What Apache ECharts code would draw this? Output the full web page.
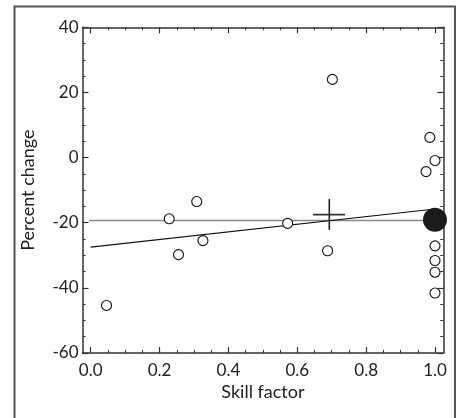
<!DOCTYPE html>
<html>
<head>
<meta charset="utf-8">
<script src="https://cdn.jsdelivr.net/npm/echarts@6/dist/echarts.min.js"></script>
<style>
html,body{margin:0;padding:0;background:#fff;}
#c{width:461px;height:418px;}
</style>
</head>
<body>
<div id="c"></div>
<script>
// ---- data ----
var skillFactor = [0.046, 0.228, 0.255, 0.308, 0.326, 0.572, 0.688, 0.702, 0.974, 0.985, 1.0, 1.0, 1.0, 1.0, 1.0];
var percentChange = [-45.4, -18.8, -29.8, -13.5, -25.5, -20.2, -28.6, 24.0, -4.3, 6.2, -0.9, -27.1, -31.6, -35.2, -41.6];
var meanPoint = [1.0, -19.1];
var meanLineY = -19.3;
var meanLineX = [-0.024, 1.0];
var regressionX = [0.0, 1.0];
var regressionY = [-27.5, -15.8];
var crossX = [0.646, 0.693, 0.739];
var crossY = [-22.2, -17.5, -12.7];
var xTicks = [0.0, 0.2, 0.4, 0.6, 0.8, 1.0];
var yTicks = [-60, -40, -20, 0, 20, 40];

var FONT = 'Lato';
var AX = '#333';
var scatterData = skillFactor.map(function (x, i) { return [x, percentChange[i]]; });

var chart = echarts.init(document.getElementById('c'), null, {renderer: 'canvas'});
var tickStyle = {show: true, inside: true, length: 6, lineStyle: {color: AX, width: 1.2}};
var minorStyle = {show: true, splitNumber: 4, length: 3, lineStyle: {color: AX, width: 1}};
var option = {
  animation: false,
  backgroundColor: '#fff',
  graphic: [{
    type: 'rect', shape: {x: 14.5, y: 6.5, width: 440.5, height: 430},
    style: {fill: 'none', stroke: '#555', lineWidth: 2}, z: -1
  }],
  grid: [
    {left: 82.5, right: 17.7, top: 27.3, bottom: 65},
    {left: 90.7, width: 344.3, top: 27.3, bottom: 65}
  ],
  xAxis: [
    {gridIndex: 0, type: 'value', min: -0.024, max: 1.024, position: 'bottom',
     axisLine: {show: true, onZero: false, lineStyle: {color: AX, width: 1.5}},
     axisTick: {show: false}, axisLabel: {show: false}, splitLine: {show: false},
     name: 'Skill factor', nameLocation: 'middle', nameGap: 30,
     nameTextStyle: {fontFamily: FONT, fontSize: 18, color: '#222'}},
    {gridIndex: 0, type: 'value', min: -0.024, max: 1.024, position: 'top',
     axisLine: {show: true, onZero: false, lineStyle: {color: AX, width: 1.5}},
     axisTick: {show: false}, axisLabel: {show: false}, splitLine: {show: false}},
    {gridIndex: 1, type: 'value', min: xTicks[0], max: xTicks[xTicks.length - 1], interval: 0.2, position: 'bottom',
     axisLine: {show: false, onZero: false}, axisTick: tickStyle, minorTick: minorStyle,
     splitLine: {show: false},
     axisLabel: {show: true, margin: 9, fontFamily: FONT, fontSize: 17, color: '#222',
       formatter: function (v) { return v.toFixed(1); }}},
    {gridIndex: 1, type: 'value', min: xTicks[0], max: xTicks[xTicks.length - 1], interval: 0.2, position: 'top',
     axisLine: {show: false, onZero: false}, axisTick: tickStyle, minorTick: minorStyle,
     splitLine: {show: false}, axisLabel: {show: false}}
  ],
  yAxis: [
    {gridIndex: 0, type: 'value', min: yTicks[0], max: yTicks[yTicks.length - 1], interval: 20, position: 'left',
     axisLine: {show: true, onZero: false, lineStyle: {color: AX, width: 1.5}},
     axisTick: tickStyle, minorTick: minorStyle, splitLine: {show: false},
     axisLabel: {show: true, margin: 4, fontFamily: FONT, fontSize: 17, color: '#222'},
     name: 'Percent change', nameLocation: 'middle', nameGap: 45,
     nameTextStyle: {fontFamily: FONT, fontSize: 18, color: '#222'}},
    {gridIndex: 0, type: 'value', min: yTicks[0], max: yTicks[yTicks.length - 1], interval: 20, position: 'right',
     axisLine: {show: true, onZero: false, lineStyle: {color: AX, width: 1.5}},
     axisTick: tickStyle, minorTick: minorStyle, splitLine: {show: false},
     axisLabel: {show: false}},
    {gridIndex: 1, type: 'value', min: yTicks[0], max: yTicks[yTicks.length - 1], show: false}
  ],
  series: [
    {type: 'line', xAxisIndex: 2, yAxisIndex: 2, clip: false, symbol: 'none',
     data: [[meanLineX[0], meanLineY], [meanLineX[1], meanLineY]],
     lineStyle: {color: '#8a8a8a', width: 1.6}, z: 2},
    {type: 'line', xAxisIndex: 2, yAxisIndex: 2, clip: false, symbol: 'none',
     data: [[regressionX[0], regressionY[0]], [regressionX[1], regressionY[1]]],
     lineStyle: {color: '#111', width: 1.1}, z: 3},
    {type: 'line', xAxisIndex: 2, yAxisIndex: 2, clip: false, symbol: 'none',
     data: [[crossX[0], crossY[1]], [crossX[2], crossY[1]]],
     lineStyle: {color: '#333', width: 1.6}, z: 4},
    {type: 'line', xAxisIndex: 2, yAxisIndex: 2, clip: false, symbol: 'none',
     data: [[crossX[1], crossY[0]], [crossX[1], crossY[2]]],
     lineStyle: {color: '#222', width: 1.6}, z: 4},
    {type: 'scatter', xAxisIndex: 2, yAxisIndex: 2, clip: false, symbol: 'circle', symbolSize: 10,
     data: scatterData,
     itemStyle: {color: '#fff', borderColor: '#111', borderWidth: 1.1, opacity: 1}, z: 5},
    {type: 'scatter', xAxisIndex: 2, yAxisIndex: 2, clip: false, symbol: 'circle', symbolSize: 24,
     data: [meanPoint], itemStyle: {color: '#1a1a1a', opacity: 1}, z: 6}
  ]
};
chart.setOption(option);
</script>
</body>
</html>
